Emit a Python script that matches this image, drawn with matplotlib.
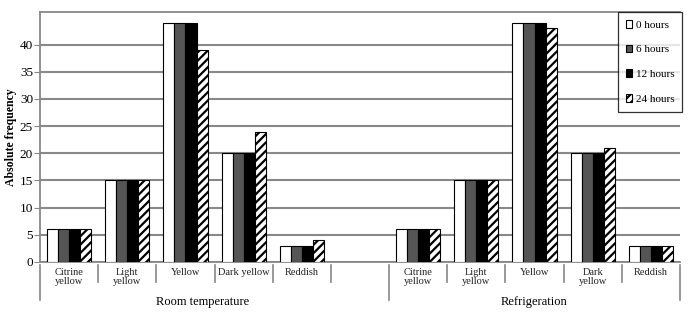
import matplotlib.pyplot as plt
import numpy as np

plt.rcParams['font.family'] = ['Liberation Serif', 'DejaVu Serif']
plt.rcParams['hatch.linewidth'] = 1.6

categories = ['Citrine\nyellow', 'Light\nyellow', 'Yellow', 'Dark yellow', 'Reddish']
categories_ref = ['Citrine\nyellow', 'Light\nyellow', 'Yellow', 'Dark\nyellow', 'Reddish']
groups = ['Room temperature', 'Refrigeration']
series = ['0 hours', '6 hours', '12 hours', '24 hours']

room_0h = [6, 15, 44, 20, 3]
room_6h = [6, 15, 44, 20, 3]
room_12h = [6, 15, 44, 20, 3]
room_24h = [6, 15, 39, 24, 4]

fridge_0h = [6, 15, 44, 20, 3]
fridge_6h = [6, 15, 44, 20, 3]
fridge_12h = [6, 15, 44, 20, 3]
fridge_24h = [6, 15, 43, 21, 3]

room = [room_0h, room_6h, room_12h, room_24h]
fridge = [fridge_0h, fridge_6h, fridge_12h, fridge_24h]

styles = [
    dict(facecolor='white', edgecolor='black'),
    dict(facecolor='#555555', edgecolor='black'),
    dict(facecolor='black', edgecolor='black'),
    dict(facecolor='white', edgecolor='black', hatch='////'),
]

fig = plt.figure(figsize=(6.9, 3.14), dpi=100)
ax = fig.add_axes([40 / 690, 1 - 262 / 314, 640 / 690, 250 / 314])

x_room = np.arange(5)
x_fridge = np.arange(6, 11)
w = 0.19
for i, st in enumerate(styles):
    off = (i - 1.5) * w
    ax.bar(x_room + off, room[i], w, linewidth=0.8, label=series[i], zorder=3, **st)
    ax.bar(x_fridge + off, fridge[i], w, linewidth=0.8, zorder=3, **st)

ax.set_xlim(-0.5, 10.5)
ax.set_ylim(0, 46)
ax.set_yticks(range(0, 45, 5))
ax.yaxis.grid(True, color='#888888', linewidth=1.5, zorder=0)
ax.set_xticks([])
for s in ['top', 'left', 'bottom', 'right']:
    ax.spines[s].set_color('#888888')
    ax.spines[s].set_linewidth(1.3)
ax.spines['right'].set_visible(False)
ax.tick_params(axis='y', length=4, color='#888888', labelsize=9.5, pad=1)
ax.set_ylabel('Absolute frequency', fontsize=8.5, fontweight='bold', labelpad=2)

trans = ax.get_xaxis_transform()
for xs, labs in [(x_room, categories), (x_fridge, categories_ref)]:
    for xv, lab in zip(xs, labs):
        ax.text(xv, -0.025, lab, transform=trans, ha='center', va='top',
                fontsize=7.5, linespacing=0.95, color='#222222')

short = [0.5, 1.5, 2.5, 3.5, 4.5, 6.5, 7.5, 8.5, 9.5]
long_ = [-0.5, 5.5, 10.5]
for xv in short:
    ax.plot([xv, xv], [-0.012, -0.08], transform=trans, color='#888888',
            linewidth=1.2, clip_on=False)
for xv in long_:
    ax.plot([xv, xv], [-0.012, -0.15], transform=trans, color='#888888',
            linewidth=1.2, clip_on=False)

ax.text(2.3, -0.135, groups[0], transform=trans, ha='center', va='top', fontsize=9)
ax.text(8.0, -0.135, groups[1], transform=trans, ha='center', va='top', fontsize=9)

leg = ax.legend(loc='upper right', bbox_to_anchor=(682 / 690, 1 - 12 / 314),
                bbox_transform=fig.transFigure, fontsize=8, frameon=True,
                fancybox=False, edgecolor='black', handlelength=0.6,
                handleheight=0.7, labelspacing=1.35, handletextpad=0.3,
                borderpad=0.7, borderaxespad=0)
leg.get_frame().set_linewidth(0.9)

fig.savefig('out.png', dpi=100)
